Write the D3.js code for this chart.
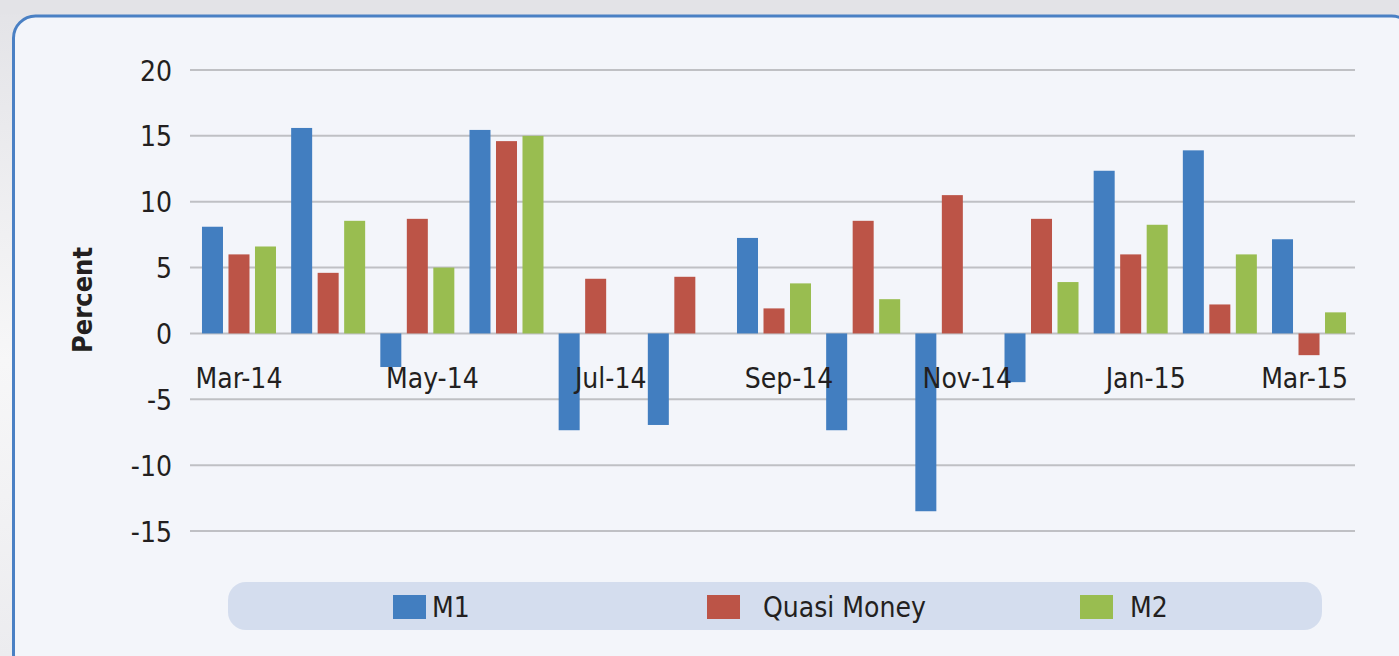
<!DOCTYPE html>
<html>
<head>
<meta charset="utf-8">
<script src="https://cdn.jsdelivr.net/npm/d3@7/dist/d3.min.js"></script>
<style>
  html, body { margin: 0; padding: 0; background: #e4e4e8; overflow: hidden; }
  svg { display: block; }
  text { font-family: "DejaVu Sans Condensed", "DejaVu Sans", sans-serif; font-stretch: condensed; fill: #231f20; }
</style>
</head>
<body>
<svg id="chart" width="1399" height="656"></svg>
<script>
// ---- data ----
const categories = ["Mar-14","Apr-14","May-14","Jun-14","Jul-14","Aug-14","Sep-14","Oct-14","Nov-14","Dec-14","Jan-15","Feb-15","Mar-15"];
const tickLabels = ["Mar-14","May-14","Jul-14","Sep-14","Nov-14","Jan-15","Mar-15"];
const seriesNames = ["M1","Quasi Money","M2"];
const m1 = [8.1, 15.6, -2.55, 15.45, -7.35, -6.95, 7.25, -7.35, -13.5, -3.7, 12.35, 13.9, 7.15];
const quasiMoney = [6.0, 4.6, 8.7, 14.6, 4.15, 4.3, 1.9, 8.55, 10.5, 8.7, 6.0, 2.2, -1.65];
const m2 = [6.6, 8.55, 5.0, 15.0, null, null, 3.8, 2.6, null, 3.9, 8.25, 6.0, 1.6];
const yTicks = [-15, -10, -5, 0, 5, 10, 15, 20];
const yTitle = "Percent";

// ---- style ----
const colors = ["#427ec0", "#bc5447", "#99bd50"];
const W = 1399, H = 656;
const svg = d3.select("#chart");

// background gradient for outside area
const defs = svg.append("defs");
const lg = defs.append("linearGradient").attr("id", "bg").attr("x1", 0).attr("y1", 0).attr("x2", 0).attr("y2", 1);
lg.append("stop").attr("offset", "0%").attr("stop-color", "#e3e3e7");
lg.append("stop").attr("offset", "55%").attr("stop-color", "#f7f7f8");
lg.append("stop").attr("offset", "100%").attr("stop-color", "#ececef");
svg.append("rect").attr("x", 0).attr("y", 0).attr("width", W).attr("height", H).attr("fill", "url(#bg)");
svg.append("rect").attr("x", 0).attr("y", 0).attr("width", W).attr("height", 14).attr("fill", "#e3e3e7");

// panel
svg.append("rect")
  .attr("x", 13.5).attr("y", 16).attr("width", 1400).attr("height", 660)
  .attr("rx", 22).attr("ry", 22)
  .attr("fill", "#f3f5fa").attr("stroke", "#4a80c4").attr("stroke-width", 3);

// scales
const y = d3.scaleLinear().domain([-15, 20]).range([531, 70]);
const x0 = d3.scaleBand().domain(categories).range([194.4, 1353.6]).paddingInner(0.17).paddingOuter(0.085);
const x1 = d3.scaleBand().domain(seriesNames).range([0, x0.bandwidth()]).paddingInner(0.2075);

const gridX0 = 190, gridX1 = 1355;

// gridlines
svg.append("g").selectAll("line").data(yTicks).join("line")
  .attr("x1", gridX0).attr("x2", gridX1)
  .attr("y1", d => y(d)).attr("y2", d => y(d))
  .attr("stroke", "#bfc0c4").attr("stroke-width", 2);

// y tick labels via axis (plain hyphen minus)
const yAxis = svg.append("g").attr("transform", `translate(${gridX0},0)`)
  .call(d3.axisLeft(y).tickValues(yTicks).tickSize(0).tickPadding(18).tickFormat(d => String(d)));
yAxis.select(".domain").remove();
yAxis.selectAll("text").attr("font-size", 28).attr("fill", "#231f20")
  .attr("dy", "0.36em")
  .style("font-family", '"DejaVu Sans Condensed", "DejaVu Sans", sans-serif');

// y title
svg.append("text")
  .attr("transform", `translate(92,300) rotate(-90)`)
  .attr("text-anchor", "middle")
  .attr("font-size", 27).attr("font-weight", "bold")
  .text(yTitle);

// bars
const series = [m1, quasiMoney, m2];
const barData = [];
categories.forEach((c, i) => {
  series.forEach((s, k) => {
    if (s[i] !== null && s[i] !== undefined) barData.push({ cat: c, name: seriesNames[k], k, v: s[i] });
  });
});
svg.append("g").selectAll("rect").data(barData).join("rect")
  .attr("x", d => x0(d.cat) + x1(d.name))
  .attr("width", x1.bandwidth())
  .attr("y", d => y(Math.max(0, d.v)))
  .attr("height", d => Math.abs(y(d.v) - y(0)))
  .attr("fill", d => colors[d.k]);

// x tick labels (every other month); interior labels nudged right, ends kept inside plot
const plotL = 195, plotR = 1348;
const xl = svg.append("g");
tickLabels.forEach((t, i) => {
  const txt = xl.append("text")
    .attr("font-size", 28).attr("text-anchor", "middle")
    .attr("y", 388)
    .text(t);
  const w = txt.node().getComputedTextLength();
  const nudge = (i === 0 || i === tickLabels.length - 1) ? 0 : 15;
  let cx = x0(t) + x0.bandwidth() / 2 + nudge;
  cx = Math.max(plotL + w / 2, Math.min(plotR - w / 2, cx));
  txt.attr("x", cx);
});

// legend
const leg = svg.append("g");
leg.append("rect").attr("x", 228).attr("y", 582).attr("width", 1094).attr("height", 48)
  .attr("rx", 18).attr("fill", "#d4ddee");
const legendItems = [
  { name: seriesNames[0], sx: 393, tx: 432 },
  { name: seriesNames[1], sx: 707, tx: 763 },
  { name: seriesNames[2], sx: 1080, tx: 1130 }
];
legendItems.forEach((it, k) => {
  leg.append("rect").attr("x", it.sx).attr("y", 595).attr("width", 33).attr("height", 24).attr("fill", colors[k]);
  leg.append("text").attr("x", it.tx).attr("y", 617).attr("font-size", 28).text(it.name);
});
</script>
</body>
</html>
